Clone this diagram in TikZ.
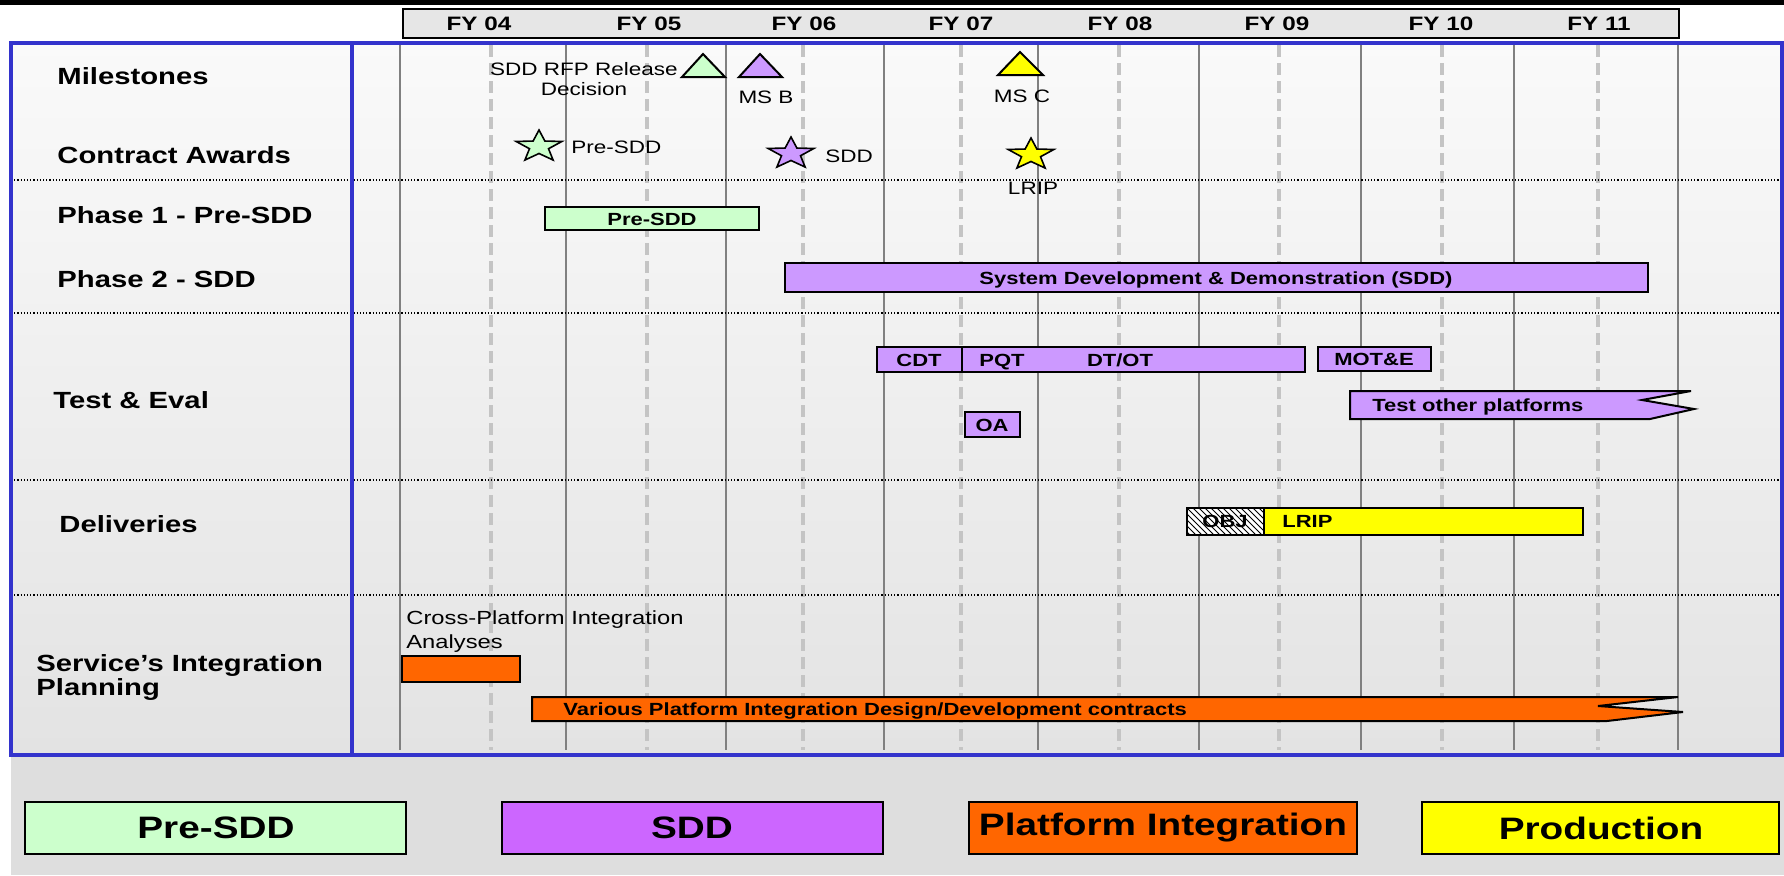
\documentclass[tikz,border=0pt]{standalone}
\usepackage{fontspec}
\setmainfont{Liberation Sans}[FakeStretch=1.25]
\usepackage{tikz}
\usetikzlibrary{patterns}

\definecolor{presdd}{HTML}{CCFFCC}
\definecolor{sddbar}{HTML}{CC99FF}
\definecolor{sddkey}{HTML}{CC66FF}
\definecolor{platform}{HTML}{FF6600}
\definecolor{production}{HTML}{FFFF00}
\definecolor{frameblue}{HTML}{3333CC}
\definecolor{yeargray}{HTML}{808080}
\definecolor{halfgray}{HTML}{C4C4C4}
\definecolor{fybox}{HTML}{E6E6E6}
\definecolor{keygray}{HTML}{DEDEDE}

\begin{document}
\begin{tikzpicture}[x=0.5pt,y=-0.5pt,
    rowlabel/.style={anchor=west,align=left,inner sep=0pt,
                     font=\bfseries\fontsize{11.7}{12}\selectfont},
    fylabel/.style={inner sep=0pt,font=\bfseries\fontsize{9.7}{11}\selectfont},
    smalltext/.style={inner sep=0pt,align=center,font=\fontsize{9}{10}\selectfont},
    barlabel/.style={inner sep=0pt,text height=1.5ex,text depth=.25ex,
                     font=\bfseries\fontsize{8.8}{10}\selectfont},
    ganttbar/.style={draw=black,line width=1pt},
    starmark/.style={draw=black,line width=0.8pt},
    keybox/.style={draw=black,line width=1.3pt},
    keylabel/.style={inner sep=0pt,font=\bfseries\fontsize{15.5}{17}\selectfont},
    yearline/.style={draw=yeargray,line width=1pt},
    halfline/.style={draw=halfgray,line width=2pt,dash pattern=on 6pt off 3pt},
    rowsep/.style={densely dotted,line width=0.6pt},
    frameline/.style={draw=frameblue,line width=2pt}]

  \useasboundingbox (0,0) rectangle (1784,875);

  % ------- backgrounds -------
  \fill[white] (0,0) rectangle (1784,875);
  \shade[top color=white!98!black,bottom color=black!11] (11,43) rectangle (1782,755);
  \fill[keygray] (11,755) rectangle (1784,875);

  % ------- year header -------
  \fill[black] (0,0) rectangle (1784,5);
  \draw[line width=1pt,fill=fybox] (403,9) rectangle (1679,38);
  \foreach \fx/\fy in {479/04,649/05,804/06,961/07,1120/08,1277/09,1441/10,1599/11}
    \node[fylabel] (fy\fy) at (\fx,24) {FY \fy};

  % ------- grid -------
  \foreach \gx in {400,566,726,884,1038,1199,1361,1514,1678}
    \draw[yearline] (\gx,45) -- (\gx,750);
  \foreach \hx in {491,647,803,961,1119,1279,1442,1598}
    \draw[halfline] (\hx,45) -- (\hx,750);
  \foreach \sy in {180,313,480,595}
    \draw[rowsep] (11,\sy) -- (1782,\sy);

  % ------- frame -------
  \draw[frameline] (11,43) rectangle (1782,755);
  \draw[frameline] (352,43) -- (352,755);

  % ------- row labels -------
  \node[rowlabel] (lblmile)  at (57,76)  {Milestones};
  \node[rowlabel] (lblaward) at (57,155) {Contract Awards};
  \node[rowlabel] (lblphone) at (57,215) {Phase 1 - Pre-SDD};
  \node[rowlabel] (lblphtwo) at (57,279) {Phase 2 - SDD};
  \node[rowlabel] (lbltest)  at (53,400) {Test \& Eval};
  \node[rowlabel] (lbldeliv) at (59,524) {Deliveries};
  \node[rowlabel] (lblplan)  at (36,677) {Service’s Integration\\Planning};

  % ------- milestones -------
  \draw[line width=1pt,fill=presdd]     (682,77) -- (703,54) -- (725,77) -- cycle;
  \draw[line width=1pt,fill=sddbar]     (739,77) -- (760,54) -- (782,77) -- cycle;
  \draw[line width=1pt,fill=production] (998,75) -- (1020,52) -- (1043,75) -- cycle;
  \node[smalltext] (rfptext) at (584,79) {SDD RFP Release\\Decision};
  \node[smalltext] (msbtext) at (766,97) {MS B};
  \node[smalltext] (msctext) at (1022,96) {MS C};

  % ------- contract awards -------
  \foreach \cx/\cy/\col in {539/146.6/presdd,791/153.6/sddbar,1031/154.6/production}
    \draw[starmark,fill=\col] (\cx,\cy)
      +(-90:24 and 16.6) -- +(-54:10 and 6.9) -- +(-18:24 and 16.6)
      -- +(18:10 and 6.9) -- +(54:24 and 16.6) -- +(90:10 and 6.9)
      -- +(126:24 and 16.6) -- +(162:10 and 6.9) -- +(198:24 and 16.6)
      -- +(234:10 and 6.9) -- cycle;
  \node[smalltext,anchor=west] (awpresdd) at (571,147) {Pre-SDD};
  \node[smalltext,anchor=west] (awsdd)    at (825,156) {SDD};
  \node[smalltext] (awlrip) at (1033,188) {LRIP};

  % ------- phases -------
  \draw[ganttbar,fill=presdd] (545,207) rectangle (759,230);
  \node[barlabel] (phonetext) at (652,218.5) {Pre-SDD};
  \draw[ganttbar,fill=sddbar] (785,263) rectangle (1648,292);
  \node[barlabel] (phtwotext) at (1216,278) {System Development \& Demonstration (SDD)};

  % ------- test & eval -------
  \draw[ganttbar,fill=sddbar] (877,347) rectangle (962,372);
  \draw[ganttbar,fill=sddbar] (962,347) rectangle (1305,372);
  \node[barlabel] (cdt)  at (919,360)  {CDT};
  \node[barlabel] (pqt)  at (1002,360) {PQT};
  \node[barlabel] (dtot) at (1120,360) {DT/OT};
  \draw[ganttbar,fill=sddbar] (1318,347) rectangle (1431,371);
  \node[barlabel] (mote) at (1374,359) {MOT\&E};
  \draw[ganttbar,fill=sddbar] (1350,391) -- (1691,391) -- (1642,400) -- (1694,409)
        -- (1650,419) -- (1350,419) -- cycle;
  \node[barlabel,anchor=west] (otherplat) at (1372,405) {Test other platforms};
  \draw[ganttbar,fill=sddbar] (965,412) rectangle (1020,437);
  \node[barlabel] (oa) at (992,425) {OA};

  % ------- deliveries -------
  \fill[white] (1187,508) rectangle (1264,535);
  \draw[ganttbar,pattern=north west lines] (1187,508) rectangle (1264,535);
  \node[barlabel] (obj) at (1225,521) {OBJ};
  \draw[ganttbar,fill=production] (1264,508) rectangle (1583,535);
  \node[barlabel,anchor=west] (lrip) at (1282,521) {LRIP};

  % ------- integration planning -------
  \node[smalltext,anchor=west,align=left,font=\fontsize{9.5}{12}\selectfont]
        (crosstext) at (406,632) {Cross-Platform Integration\\Analyses};
  \draw[ganttbar,fill=platform] (402,656) rectangle (520,682);
  \draw[ganttbar,fill=platform] (532,697) -- (1678,697) -- (1598,706) -- (1683,712)
        -- (1607,721) -- (532,721) -- cycle;
  \node[barlabel,anchor=west] (varioustext) at (563,709)
        {Various Platform Integration Design/Development contracts};

  % ------- legend -------
  \draw[keybox,fill=presdd]     (25,802)   rectangle (406,854);
  \draw[keybox,fill=sddkey]     (502,802)  rectangle (883,854);
  \draw[keybox,fill=platform]   (969,802)  rectangle (1357,854);
  \draw[keybox,fill=production] (1422,802) rectangle (1779,854);
  \node[keylabel] (keypresdd) at (216,828)  {Pre-SDD};
  \node[keylabel] (keysdd)    at (692,828)  {SDD};
  \node[keylabel] (keyplat)   at (1163,828) {Platform Integration};
  \node[keylabel] (keyprod)   at (1601,828) {Production};
\end{tikzpicture}
\end{document}
